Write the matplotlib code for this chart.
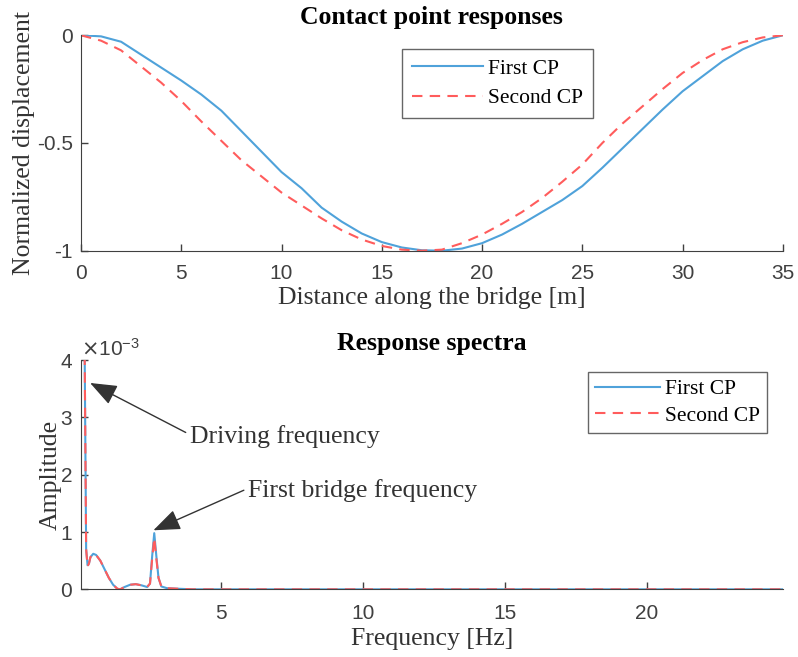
import numpy as np
import matplotlib
matplotlib.use("Agg")
import matplotlib.pyplot as plt
from matplotlib.ticker import ScalarFormatter

# contact point responses
dist = [0, 1, 2, 3, 4, 5, 6, 7, 8, 9, 10, 11, 12, 13, 14, 15, 16, 17, 18,
        19, 20, 21, 22, 23, 24, 25, 26, 27, 28, 29, 30, 31, 32, 33, 34, 35]
disp_first = [0, -0.005, -0.03, -0.09, -0.15, -0.21, -0.275, -0.35, -0.445, -0.54,
              -0.635, -0.71, -0.80, -0.865, -0.92, -0.96, -0.985, -0.998, -1.0,
              -0.99, -0.965, -0.925, -0.875, -0.82, -0.765, -0.70, -0.615, -0.525,
              -0.435, -0.345, -0.26, -0.19, -0.12, -0.065, -0.025, 0]
disp_second = [0, -0.025, -0.07, -0.145, -0.22, -0.305, -0.40, -0.49, -0.58, -0.655,
               -0.73, -0.79, -0.85, -0.905, -0.948, -0.978, -0.995, -1.0, -0.995,
               -0.965, -0.925, -0.875, -0.82, -0.755, -0.68, -0.60, -0.50, -0.41,
               -0.33, -0.25, -0.175, -0.115, -0.065, -0.032, -0.01, 0]

# response spectra, amplitude in units of 1e-3
freq = [0.08, 0.2, 0.25, 0.3, 0.35, 0.4, 0.5, 0.6, 0.75, 0.9, 1.05, 1.2, 1.35, 1.45,
        1.6, 1.8, 2.0, 2.2, 2.4, 2.5, 2.58, 2.65, 2.72, 2.8, 2.9, 3.1, 3.5, 4.0, 24.8]
amp_first = [4.4, 4.0, 0.7, 0.42, 0.45, 0.56, 0.62, 0.6, 0.5, 0.35, 0.2, 0.08, 0.01, 0.0,
             0.04, 0.08, 0.09, 0.07, 0.04, 0.1, 0.6, 0.98, 0.6, 0.2, 0.05, 0.02, 0.01, 0.0, 0.0]
amp_second = [4.4, 4.0, 0.7, 0.4, 0.45, 0.56, 0.62, 0.6, 0.5, 0.35, 0.2, 0.08, 0.01, 0.0,
              0.04, 0.08, 0.09, 0.07, 0.04, 0.1, 0.55, 0.9, 0.55, 0.2, 0.05, 0.02, 0.01, 0.0, 0.0]

blue = "#4fa2da"
red = "#ff5c5c"
grey = "#404040"
txt = "#333333"
serif = "Liberation Serif"
sans = "Liberation Sans"

plt.rcParams["font.family"] = sans
plt.rcParams["font.size"] = 15
plt.rcParams["axes.edgecolor"] = grey
plt.rcParams["xtick.color"] = grey
plt.rcParams["ytick.color"] = grey
plt.rcParams["xtick.direction"] = "in"
plt.rcParams["ytick.direction"] = "in"

fig = plt.figure(figsize=(7.98, 6.57), dpi=100)
ax1 = fig.add_axes([0.1015, 0.6184, 0.8795, 0.3279])
ax2 = fig.add_axes([0.1019, 0.103, 0.8791, 0.349])

for ax in (ax1, ax2):
    ax.spines["top"].set_visible(False)
    ax.spines["right"].set_visible(False)
    ax.tick_params(length=5, width=1)
    ax.tick_params(axis="y", pad=6)
ax1.tick_params(axis="x", pad=9.5)
ax2.tick_params(axis="x", pad=10.5)

# top panel
ax1.plot(dist, disp_first, color=blue, lw=1.5, label="First CP")
ax1.plot(dist, disp_second, color=red, lw=1.5, ls=(0, (5, 3.5)), label="Second CP")
ax1.set_xlim(0, 35)
ax1.set_ylim(-1, 0)
ax1.set_xticks([0, 5, 10, 15, 20, 25, 30, 35])
ax1.set_yticks([-1, -0.5, 0])
ax1.set_yticklabels(["-1", "-0.5", "0"])
ax1.set_title("Contact point responses", family=serif, fontweight="bold", fontsize=18.5, pad=8)
ax1.set_xlabel("Distance along the bridge [m]", family=serif, fontsize=18.5, labelpad=3, color=txt)
ax1.set_ylabel("Normalized displacement", family=serif, fontsize=18.5, labelpad=1, color=txt)
leg1 = ax1.legend(loc="upper left", bbox_to_anchor=(0.4573, 0.9364), prop={"family": serif, "size": 15.5},
                  fancybox=False, edgecolor=grey, handlelength=3.3, handletextpad=0.25,
                  borderpad=0.45, labelspacing=0.45, borderaxespad=0)
leg1.get_frame().set_linewidth(1)

# bottom panel
fa = np.array(amp_first) * 1e-3
sa = np.array(amp_second) * 1e-3
ax2.plot(freq, fa, color=blue, lw=1.5, label="First CP")
ax2.plot(freq, sa, color=red, lw=1.5, ls=(0, (5, 3.5)), label="Second CP")
ax2.set_xlim(0.08, 24.8)
ax2.set_ylim(0, 4e-3)
ax2.set_xticks([5, 10, 15, 20])
ax2.set_yticks([0, 1e-3, 2e-3, 3e-3, 4e-3])
fmt = ScalarFormatter(useMathText=True)
fmt.set_powerlimits((-2, 2))
ax2.yaxis.set_major_formatter(fmt)
ax2.yaxis.get_offset_text().set_color(grey)
ax2.set_title("Response spectra", family=serif, fontweight="bold", fontsize=18.5, pad=7)
ax2.set_xlabel("Frequency [Hz]", family=serif, fontsize=18.5, labelpad=4, color=txt)
ax2.set_ylabel("Amplitude", family=serif, fontsize=18.5, labelpad=-1, color=txt)
leg2 = ax2.legend(loc="upper left", bbox_to_anchor=(0.7221, 0.9477), prop={"family": serif, "size": 15.5},
                  fancybox=False, edgecolor=grey, handlelength=3.0, handletextpad=0.25,
                  borderpad=0.33, labelspacing=0.3, borderaxespad=0)
leg2.get_frame().set_linewidth(1)

arrow = dict(arrowstyle="-|>,head_length=0.9,head_width=0.35", color=txt, lw=1,
             shrinkA=1, shrinkB=0, relpos=(0, 0.6))
ax2.annotate("Driving frequency", xy=(0.39, 3.6e-3), xytext=(3.9, 2.66e-3),
             family=serif, fontsize=18.5, color=txt, ha="left", va="center", arrowprops=arrow)
ax2.annotate("First bridge frequency", xy=(2.62, 1.03e-3), xytext=(5.95, 1.72e-3),
             family=serif, fontsize=18.5, color=txt, ha="left", va="center", arrowprops=arrow)

fig.savefig("out.png", dpi=100)
